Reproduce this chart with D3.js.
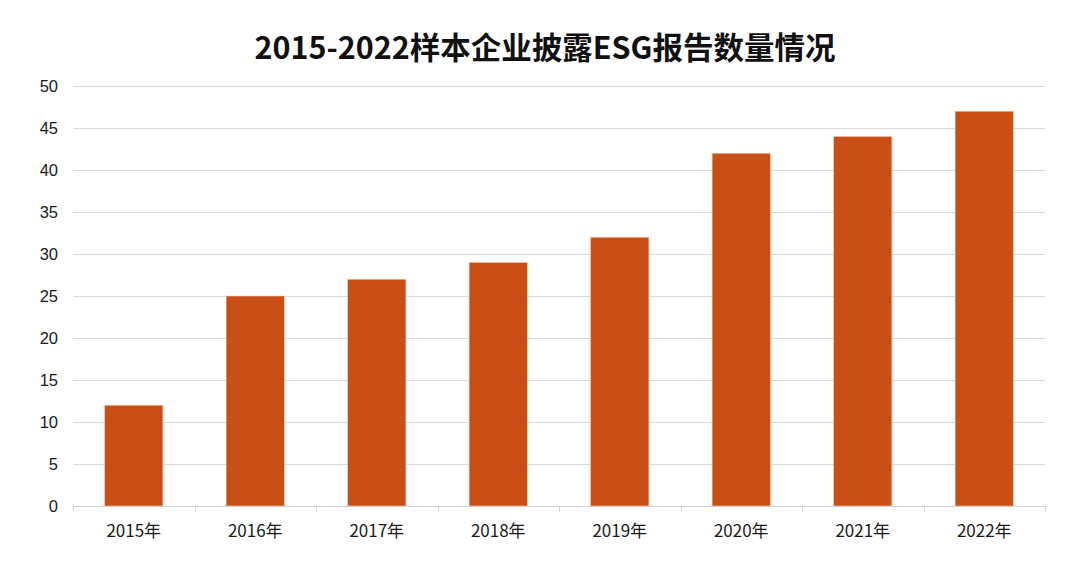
<!DOCTYPE html>
<html><head><meta charset="utf-8">
<script src="https://cdn.jsdelivr.net/npm/d3@7"></script>
<style>body{margin:0;background:#fff}svg{display:block}</style>
</head><body>
<svg id="c" width="1080" height="564"></svg>
<script>
const categories = ["2015年","2016年","2017年","2018年","2019年","2020年","2021年","2022年"];
const values = [12, 25, 27, 29, 32, 42, 44, 47];
const yTicks = [0,5,10,15,20,25,30,35,40,45,50];
const title = "2015-2022样本企业披露ESG报告数量情况";

const svg = d3.select("#c");
const m = {left:73, right:1045, top:86, bottom:506};
const x = d3.scaleBand().domain(categories).range([m.left, m.right]).paddingInner(0.52).paddingOuter(0.26);
const y = d3.scaleLinear().domain([0,50]).range([m.bottom, m.top]);

svg.append("rect").attr("width",1080).attr("height",564).attr("fill","#fff");

// gridlines
svg.append("g").selectAll("line").data(yTicks.filter(d=>d>0)).join("line")
  .attr("x1",m.left).attr("x2",m.right)
  .attr("y1",d=>Math.round(y(d))+0.5).attr("y2",d=>Math.round(y(d))+0.5)
  .attr("stroke","#d9d9d9").attr("stroke-width",1);

// y labels
svg.append("g").selectAll("text").data(yTicks).join("text")
  .attr("x",58).attr("y",d=>y(d)).attr("dy","0.36em")
  .attr("text-anchor","end").attr("font-family","Liberation Sans, Arial, sans-serif")
  .attr("font-size",16.5).attr("fill","#1a1a1a").text(d=>d);

// bars
svg.append("g").selectAll("rect").data(values).join("rect")
  .attr("x",(d,i)=>x(categories[i])).attr("width",x.bandwidth())
  .attr("y",d=>y(d)).attr("height",d=>y(0)-y(d))
  .attr("fill","#c94f17").attr("stroke","#f3d2c2").attr("stroke-width",0.6);

// x axis
const xa = svg.append("g").attr("transform",`translate(0,${Math.round(y(0))+0.5})`);
xa.append("line").attr("x1",m.left).attr("x2",m.right).attr("stroke","#d0d0d0");
const bounds = d3.range(categories.length+1).map(i=>m.left + i*(m.right-m.left)/categories.length);
xa.selectAll("line.t").data(bounds).join("line").attr("class","t")
  .attr("x1",d=>Math.round(d)+0.5).attr("x2",d=>Math.round(d)+0.5).attr("y1",0).attr("y2",5)
  .attr("stroke","#d0d0d0");
xa.selectAll("text").data(categories).join("text")
  .attr("x",d=>x(d)+x.bandwidth()/2).attr("y",30)
  .attr("text-anchor","middle").attr("font-family","Noto Sans CJK SC, sans-serif")
  .attr("font-size",17).attr("fill","#1a1a1a").text(d=>d);

// title
svg.append("text").attr("x",545).attr("y",59).attr("text-anchor","middle")
  .attr("font-family","Noto Sans CJK SC, sans-serif").attr("font-weight","bold")
  .attr("font-size",30.5).attr("fill","#111").text(title);
</script>
</body></html>
